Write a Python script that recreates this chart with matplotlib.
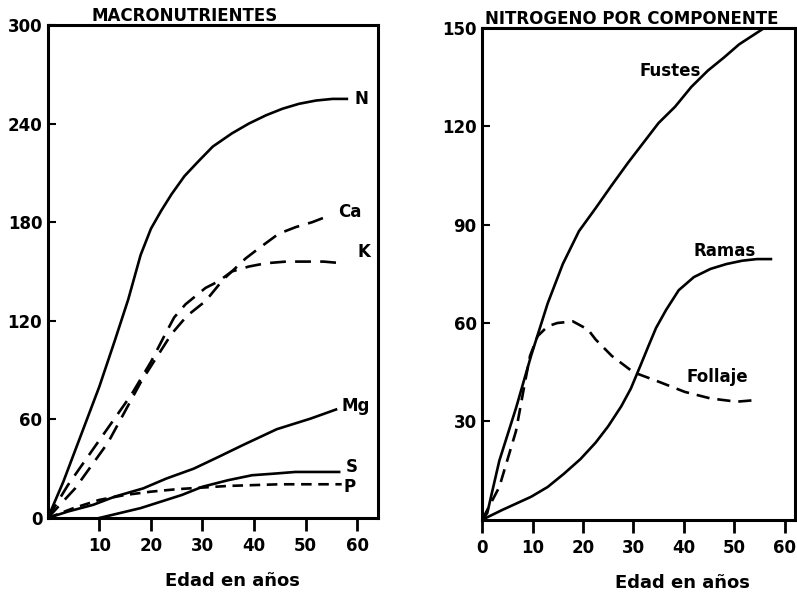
import numpy as np
import matplotlib.pyplot as plt

# left panel: macronutrients (kg/ha) vs age (years)
n_x = [0, 3, 6.5, 10, 13, 15.6, 18, 20, 22, 24, 26.5, 29.2, 32, 35.7, 39, 42.3, 45.5, 48.7, 52, 55.2, 58]
n_y = [0, 22, 51, 80, 108, 133, 160, 176, 187, 197, 208, 217, 226, 234, 240, 245, 249, 252, 254, 255, 255]
ca_x = [0, 5.3, 11.7, 18.1, 24, 27, 30.6, 34, 38.4, 40.9, 44.8, 48.1, 51.3, 54.6]
ca_y = [0, 18, 46, 83, 112, 123, 132, 145, 158, 164, 173, 177, 180, 184]
k_x = [0, 3.9, 9.7, 16.2, 20, 22.8, 24.5, 26.7, 30.6, 33.1, 35.7, 39, 42.3, 46.2, 50.1, 53.5, 57.1]
k_y = [0, 20, 46, 75, 95, 112, 122, 130, 140, 144, 150, 153, 155, 156, 156, 156, 155]
mg_x = [0, 4, 8.8, 13, 18.5, 23, 28.3, 33, 38, 44.4, 51, 55.9]
mg_y = [0, 4, 8, 13, 18, 24, 30, 37, 44.6, 54, 60.5, 66]
s_x = [10, 14, 18, 22, 26, 30, 35, 39.6, 44, 48, 52, 56.5]
s_y = [0, 3, 6, 10, 14, 19, 23, 26, 27, 28, 28, 28]
p_x = [0, 5, 10, 15, 20, 25, 30, 35, 40, 45, 50, 57]
p_y = [0, 6, 11, 14, 16, 17.5, 18.5, 19.5, 20, 20.5, 20.5, 20.5]

# right panel: nitrogen by component
fus_x = [0, 1, 3.4, 6.7, 9.7, 13, 16, 19.2, 22.5, 25.7, 29, 32, 35, 38.3, 41.5, 44.8, 48, 51, 54, 56]
fus_y = [0, 2, 18, 34, 50, 66, 78, 88, 95, 102, 109, 115, 121, 126, 132, 137, 141, 145, 148, 150]
ram_x = [0, 4, 9.7, 13, 16.2, 19.5, 22.5, 25, 27.6, 29.5, 31.4, 33, 34.5, 36.5, 39, 42, 45.3, 48.5, 51.6, 54.5, 57.3]
ram_y = [0, 3, 7, 10, 14, 18.5, 23.5, 28.5, 34.6, 40, 47, 53, 58.5, 64, 70, 74, 76.5, 78, 79, 79.5, 79.5]
fol_x = [0, 3.4, 6.7, 8.5, 9.5, 11, 13, 14.9, 18, 21, 22.5, 25.7, 30, 35.2, 40.2, 45.3, 50.5, 54.3]
fol_y = [0, 10, 27, 42, 50, 56, 59, 60, 60.5, 58, 55, 50, 45, 42, 39, 37, 36, 36.5]

lw = 1.9
fnt = dict(fontweight='bold', fontsize=12)

fig = plt.figure(figsize=(7.97, 5.94), dpi=100)
ax1 = fig.add_axes([0.060, 0.128, 0.414, 0.830])
ax2 = fig.add_axes([0.605, 0.125, 0.392, 0.828])

ax1.plot(n_x, n_y, color='black', lw=lw)
ax1.plot(ca_x, ca_y, color='black', lw=lw, dashes=(6, 3.5))
ax1.plot(k_x, k_y, color='black', lw=lw, dashes=(6, 3.5))
ax1.plot(mg_x, mg_y, color='black', lw=lw)
ax1.plot(s_x, s_y, color='black', lw=lw)
ax1.plot(p_x, p_y, color='black', lw=lw, dashes=(4, 2.5))
for txt, x, y in [('N', 60.8, 255), ('Ca', 58.6, 186), ('K', 61.4, 162),
                  ('Mg', 59.8, 68), ('S', 59.0, 31), ('P', 58.6, 19)]:
    ax1.text(x, y, txt, ha='center', va='center', **fnt)
ax1.set_xlim(0, 64)
ax1.set_ylim(0, 300)
ax1.set_xticks([10, 20, 30, 40, 50, 60])
ax1.set_yticks([0, 60, 120, 180, 240, 300])
ax1.set_xlabel('Edad en años', labelpad=12, x=0.56, fontweight='bold', fontsize=13)
ax1.set_title('MACRONUTRIENTES', x=0.415, pad=2, fontweight='bold', fontsize=12)

ax2.plot(fus_x, fus_y, color='black', lw=lw)
ax2.plot(ram_x, ram_y, color='black', lw=lw)
ax2.plot(fol_x, fol_y, color='black', lw=lw, dashes=(5, 3))
ax2.text(37.3, 137, 'Fustes', ha='center', va='center', **fnt)
ax2.text(48.2, 82, 'Ramas', ha='center', va='center', **fnt)
ax2.text(46.7, 43.5, 'Follaje', ha='center', va='center', **fnt)
ax2.set_xlim(0, 62)
ax2.set_ylim(0, 150)
ax2.set_xticks([0, 10, 20, 30, 40, 50, 60])
ax2.set_yticks([30, 60, 90, 120, 150])
ax2.set_xlabel('Edad en años', labelpad=12, x=0.64, fontweight='bold', fontsize=13)
ax2.set_title('NITROGENO POR COMPONENTE', x=0.48, pad=2, fontweight='bold', fontsize=12)

for ax in (ax1, ax2):
    for sp in ax.spines.values():
        sp.set_linewidth(2.2)
    ax.tick_params(axis='x', direction='out', length=9, width=2, pad=5, labelsize=12)
    ax.tick_params(axis='y', direction='in', length=6, width=1.5, pad=4, labelsize=12)
    for lab in ax.get_xticklabels() + ax.get_yticklabels():
        lab.set_fontweight('bold')

fig.savefig('out.png', dpi=100)
